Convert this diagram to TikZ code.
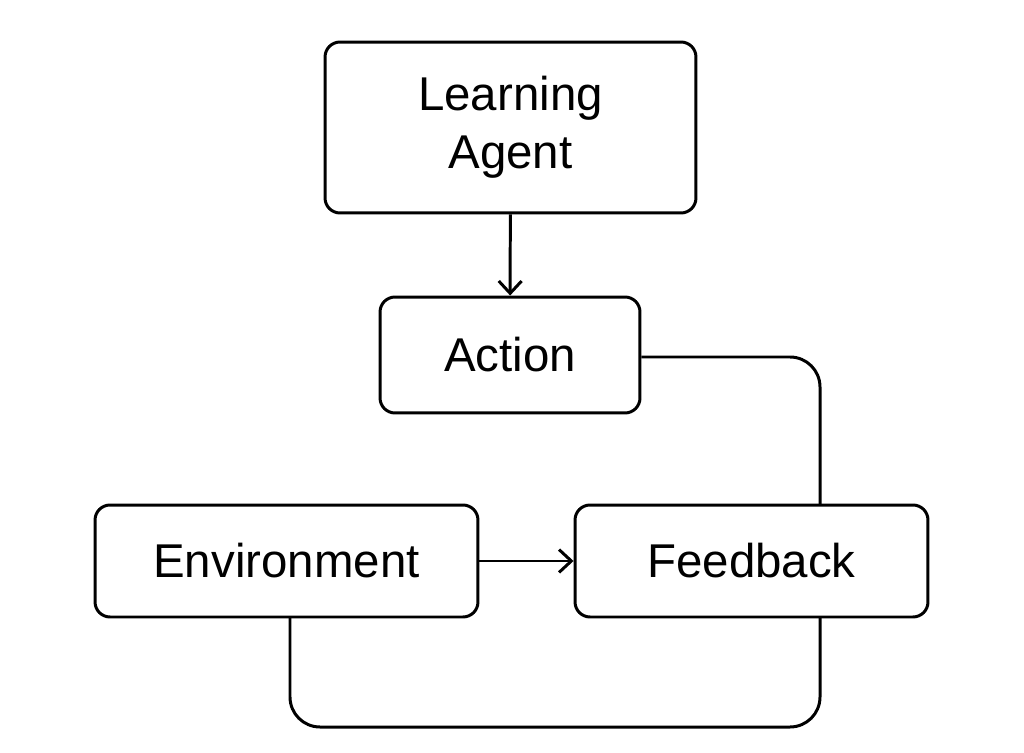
\documentclass[tikz,border=0pt]{standalone}
\usepackage{fontspec}
\setmainfont{Liberation Sans}
\usetikzlibrary{arrows.meta, positioning}

\begin{document}
\begin{tikzpicture}[x=0.02cm, y=-0.02cm, line width=1.7pt,
    box/.style={draw, rounded corners=0.3cm, align=center, inner sep=0pt,
        font=\fontsize{27}{33}\selectfont},
    link/.style={rounded corners=0.6cm},
    every edge/.style={draw, -{Straight Barb[length=7pt, width=13pt]}}]
				% Frame of the picture
				\useasboundingbox (0,0) rectangle (1024,753);

				% Draw the boxes
				\node[box, minimum width=7.42cm, minimum height=3.42cm] (agent) at (510.5,127.5) {Learning\\Agent};
				\node[box, minimum width=5.2cm, minimum height=2.32cm] (action) at (510,355) {Action};
				\node[box, minimum width=7.66cm, minimum height=2.24cm] (env) at (286.5,561) {Environment};
				\node[box, minimum width=7.06cm, minimum height=2.24cm] (feed) at (751.5,561) {Feedback};

				% Corner points of the loops
				\coordinate (actturn) at (820,357);
				\coordinate (feedtop) at (820,505);
				\coordinate (envdown) at (290,727);
				\coordinate (feeddown) at (820,727);
				\coordinate (feedbot) at (820,617);
				\coordinate (envbot) at (290,617);

				% Draw the arrows
				\draw (agent) edge (action);
				\draw (env) edge (feed);

				% Draw the plain connectors
				\draw[link] (action.east |- actturn) -- (actturn) -- (feedtop);
				\draw[link] (envbot) -- (envdown) -- (feeddown) -- (feedbot);
\end{tikzpicture}
\end{document}
